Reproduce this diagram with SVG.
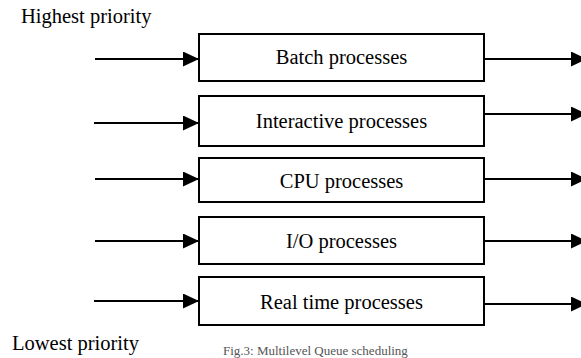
<svg xmlns="http://www.w3.org/2000/svg" width="581" height="358" viewBox="0 0 581 358">
  <style>
    .box { fill: #ffffff; stroke: #000000; stroke-width: 2; }
    .qtext { font-family: "Liberation Serif", serif; font-size: 20.5px; fill: #000000; }
    .mid { text-anchor: middle; }
    .edge { stroke: #000000; stroke-width: 2.2; fill: none; marker-end: url(#arrow); }
    .caption { font-family: "Liberation Serif", serif; font-size: 13px; fill: #555555; }
  </style>
  <defs>
    <marker id="arrow" markerUnits="userSpaceOnUse" markerWidth="16" markerHeight="15" refX="16" refY="7.5" orient="auto" viewBox="0 0 16 15">
      <path d="M0,0 L16,7.5 L0,15 z" fill="#000000"/>
    </marker>
  </defs>
  <rect width="581" height="358" fill="#ffffff"/>

  <!-- priority labels -->
  <text class="qtext" x="21" y="22.5">Highest priority</text>
  <text class="qtext" x="12" y="350">Lowest priority</text>

  <!-- queues -->
  <g id="batch">
    <rect class="box" x="199" y="34" width="285" height="47"/>
    <text class="qtext mid" x="341.5" y="64">Batch processes</text>
  </g>
  <g id="interactive">
    <rect class="box" x="199" y="96" width="285" height="50"/>
    <text class="qtext mid" x="341.5" y="128">Interactive processes</text>
  </g>
  <g id="cpu">
    <rect class="box" x="199" y="158" width="285" height="44"/>
    <text class="qtext mid" x="341.5" y="188">CPU processes</text>
  </g>
  <g id="io">
    <rect class="box" x="199" y="217" width="285" height="47"/>
    <text class="qtext mid" x="341.5" y="248">I/O processes</text>
  </g>
  <g id="realtime">
    <rect class="box" x="199" y="277" width="285" height="48"/>
    <text class="qtext mid" x="341.5" y="309">Real time processes</text>
  </g>

  <!-- incoming and outgoing connectors -->
  <g id="connectors">
    <line class="edge" x1="95" y1="59" x2="199" y2="59"/>
    <line class="edge" x1="94" y1="123" x2="199" y2="123"/>
    <line class="edge" x1="95" y1="179" x2="199" y2="179"/>
    <line class="edge" x1="95" y1="241" x2="199" y2="241"/>
    <line class="edge" x1="94" y1="301" x2="199" y2="301"/>

    <line class="edge" x1="484" y1="59" x2="587" y2="59"/>
    <line class="edge" x1="484" y1="114" x2="587" y2="114"/>
    <line class="edge" x1="484" y1="179" x2="587" y2="179"/>
    <line class="edge" x1="484" y1="241" x2="587" y2="241"/>
    <line class="edge" x1="484" y1="304" x2="587" y2="304"/>
  </g>

  <text class="caption" x="223" y="355">Fig.3: Multilevel Queue scheduling</text>
</svg>
